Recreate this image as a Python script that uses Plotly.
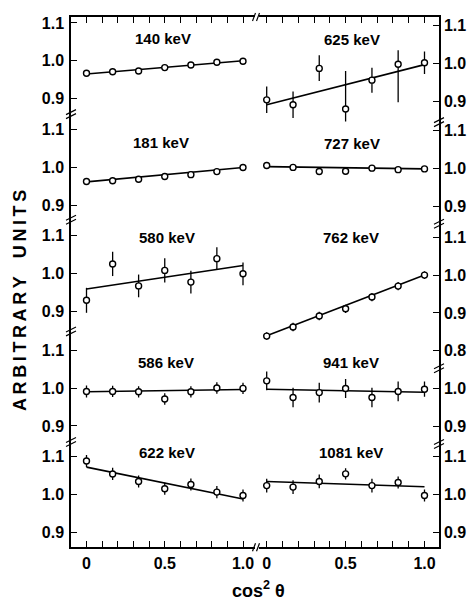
import plotly.graph_objects as go

# ---------------- data ----------------
cos2 = [0.0, 0.167, 0.333, 0.5, 0.667, 0.833, 1.0]
x_tick_vals = [0.0, 0.1, 0.2, 0.3, 0.4, 0.5, 0.6, 0.7, 0.8, 0.9, 1.0]
x_tick_text = ["0", "", "", "", "", "0.5", "", "", "", "", "1.0"]

labels = ["140 keV", "181 keV", "580 keV", "586 keV", "622 keV",
          "625 keV", "727 keV", "762 keV", "941 keV", "1081 keV"]

y_140 = [0.967, 0.971, 0.973, 0.982, 0.989, 0.996, 0.999]
e_140 = [0.007, 0.007, 0.007, 0.007, 0.008, 0.008, 0.007]
y_181 = [0.963, 0.965, 0.969, 0.976, 0.981, 0.989, 1.000]
e_181 = [0.008, 0.008, 0.008, 0.008, 0.009, 0.008, 0.007]
y_580 = [0.929, 1.025, 0.967, 1.008, 0.977, 1.039, 0.999]
e_580 = [0.033, 0.032, 0.030, 0.032, 0.030, 0.030, 0.030]
y_586 = [0.991, 0.991, 0.990, 0.971, 0.990, 1.000, 0.999]
e_586 = [0.016, 0.015, 0.015, 0.015, 0.015, 0.015, 0.015]
y_622 = [1.088, 1.054, 1.034, 1.015, 1.026, 1.006, 0.997]
e_622 = [0.016, 0.016, 0.016, 0.016, 0.016, 0.016, 0.016]
y_625 = [0.904, 0.891, 0.987, 0.880, 0.956, 0.998, 1.002]
ep_625 = [0.035, 0.035, 0.035, 0.100, 0.033, 0.037, 0.030]
em_625 = [0.035, 0.035, 0.033, 0.100, 0.033, 0.100, 0.030]
y_727 = [1.007, 1.002, 0.991, 0.992, 1.000, 0.996, 0.998]
e_727 = [0.008, 0.008, 0.008, 0.008, 0.008, 0.008, 0.008]
y_762 = [0.839, 0.863, 0.892, 0.911, 0.942, 0.971, 1.000]
e_762 = [0.010, 0.011, 0.011, 0.011, 0.011, 0.011, 0.010]
y_941 = [1.020, 0.976, 0.989, 1.000, 0.976, 0.992, 0.998]
e_941 = [0.025, 0.026, 0.026, 0.025, 0.026, 0.026, 0.020]
y_1081 = [1.024, 1.020, 1.035, 1.055, 1.024, 1.032, 0.998]
e_1081 = [0.018, 0.018, 0.018, 0.015, 0.018, 0.016, 0.016]

fit_x = [0.0, 1.0]
fit_140 = [0.965, 1.000]
fit_181 = [0.962, 1.000]
fit_580 = [0.959, 1.021]
fit_586 = [0.990, 0.996]
fit_622 = [1.072, 0.988]
fit_625 = [0.891, 0.997]
fit_727 = [1.004, 0.998]
fit_762 = [0.840, 1.000]
fit_941 = [0.998, 0.990]
fit_1081 = [1.035, 1.021]

y_ticks_std = [0.9, 1.0, 1.1]
y_ticks_762 = [0.8, 0.9, 1.0, 1.1]
y_ticks_941 = [0.9, 1.0]

panels = [
    (y_140, e_140, e_140, fit_140, y_ticks_std),
    (y_181, e_181, e_181, fit_181, y_ticks_std),
    (y_580, e_580, e_580, fit_580, y_ticks_std),
    (y_586, e_586, e_586, fit_586, y_ticks_std),
    (y_622, e_622, e_622, fit_622, y_ticks_std),
    (y_625, ep_625, em_625, fit_625, y_ticks_std),
    (y_727, e_727, e_727, fit_727, y_ticks_std),
    (y_762, e_762, e_762, fit_762, y_ticks_762),
    (y_941, e_941, e_941, fit_941, y_ticks_941),
    (y_1081, e_1081, e_1081, fit_1081, y_ticks_std),
]

# ---------------- layout geometry (pixels) ----------------
W, H = 468, 612
def px(p):
    return p / W
def py(p):
    return 1 - p / H

col_px = [(71, 255), (259, 439)]
x_zero_px = [86.5, 266.7]
x_unit_px = [156.5, 157.8]
rows_px = [
    [(15, 112), (112, 218), (218, 330), (330, 441), (441, 547)],
    [(15, 120), (120, 222), (222, 367), (367, 443), (443, 547)],
]
one_px = [[59, 166, 272.3, 387.3, 494], [61.7, 166.7, 274, 387.7, 494.3]]
Y_UNIT = 380.0
label_px = [
    [(163, 37), (161, 141), (167, 236), (166, 362), (167, 452)],
    [(352, 38), (352, 142), (351, 236), (351, 362), (351, 452)],
]

FONT = "Liberation Sans"
tick_font = dict(family=FONT, size=16, color="black", weight="bold")

fig = go.Figure()
layout = dict(
    width=W, height=H, margin=dict(l=0, r=0, t=0, b=0),
    paper_bgcolor="white", plot_bgcolor="white", showlegend=False,
)
annotations = []
shapes = []

k = 0
for c in range(2):
    for r in range(5):
        k += 1
        yv, ep, em, fit, yt = panels[k - 1]
        xa = "x" if k == 1 else f"x{k}"
        ya = "y" if k == 1 else f"y{k}"
        fig.add_trace(go.Scatter(
            x=fit_x, y=fit, mode="lines", xaxis=xa, yaxis=ya,
            line=dict(color="black", width=1.6), hoverinfo="skip"))
        fig.add_trace(go.Scatter(
            x=cos2, y=yv, mode="markers", xaxis=xa, yaxis=ya,
            marker=dict(symbol="circle", size=6, color="white",
                        line=dict(color="black", width=1.4)),
            error_y=dict(type="data", array=ep, arrayminus=em, symmetric=False,
                         color="black", thickness=1.3, width=0)))
        x0, x1 = col_px[c]
        xr = [(x0 - x_zero_px[c]) / x_unit_px[c], (x1 - x_zero_px[c]) / x_unit_px[c]]
        top, bot = rows_px[c][r]
        p1 = one_px[c][r]
        yr = [1 - (bot - p1) / Y_UNIT, 1 + (p1 - top) / Y_UNIT]
        xkey = "xaxis" if k == 1 else f"xaxis{k}"
        ykey = "yaxis" if k == 1 else f"yaxis{k}"
        xd = dict(domain=[px(x0), px(x1)], range=xr, anchor=ya,
                  showgrid=False, zeroline=False, fixedrange=True)
        if r == 0:
            xd.update(side="top", showline=True, linecolor="black", linewidth=1.5,
                      ticks="inside", ticklen=6, tickwidth=1.3, tickcolor="black",
                      tickmode="array", tickvals=x_tick_vals, showticklabels=False)
        elif r == 4:
            xd.update(side="bottom", showline=True, linecolor="black", linewidth=1.5,
                      ticks="inside", ticklen=6, tickwidth=1.3, tickcolor="black",
                      tickmode="array", tickvals=x_tick_vals, ticktext=x_tick_text,
                      tickfont=tick_font, ticklabelstandoff=1)
        else:
            xd.update(visible=False)
        layout[xkey] = xd
        layout[ykey] = dict(
            domain=[py(bot), py(top)], range=yr, anchor=xa,
            side="left" if c == 0 else "right",
            showline=True, linecolor="black", linewidth=1.5,
            ticks="inside", ticklen=6, tickwidth=1.3, tickcolor="black",
            tickmode="array", tickvals=yt, ticktext=[f"{v:.1f}" for v in yt],
            tickfont=tick_font, ticklabelstandoff=(2 if c == 0 else 0),
            showgrid=False, zeroline=False, fixedrange=True)
        lx, ly = label_px[c][r]
        annotations.append(dict(
            x=px(lx), y=py(ly), xref="paper", yref="paper", showarrow=False,
            text=labels[k - 1], font=dict(family=FONT, size=15, color="black", weight="bold"),
            xanchor="center", yanchor="middle"))

# axis break marks on vertical axes
def seg(xa, ya, xb, yb):
    shapes.append(dict(type="line", xref="paper", yref="paper",
                       x0=px(xa), y0=py(ya), x1=px(xb), y1=py(yb),
                       line=dict(color="black", width=1.2)))

for c, xline in ((0, 71), (1, 439)):
    for r in range(4):
        yb = rows_px[c][r][1]
        seg(xline - 5, yb + 1, xline + 5, yb - 4)
        seg(xline - 5, yb + 5, xline + 5, yb)
# horizontal break marks between columns
for yb in (15, 547):
    shapes.append(dict(type="rect", xref="paper", yref="paper",
                       x0=px(255), x1=px(259), y0=py(yb + 1), y1=py(yb - 1),
                       line=dict(width=0), fillcolor="white"))
    seg(252.5, yb + 4, 255.5, yb - 4)
    seg(256.5, yb + 4, 259.5, yb - 4)

annotations.append(dict(
    x=px(20), y=py(300), xref="paper", yref="paper", showarrow=False,
    text="A\u2009R\u2009B\u2009I\u2009T\u2009R\u2009A\u2009R\u2009Y\u2002\u2002U\u2009N\u2009I\u2009T\u2009S",
    textangle=-90, font=dict(family=FONT, size=18, color="black", weight="bold"),
    xanchor="center", yanchor="middle"))
annotations.append(dict(
    x=px(258), y=py(589), xref="paper", yref="paper", showarrow=False,
    text="cos<sup>2</sup> θ", font=dict(family=FONT, size=18, color="black", weight="bold"),
    xanchor="center", yanchor="middle"))

layout["annotations"] = annotations
layout["shapes"] = shapes
fig.update_layout(**layout)
fig.write_html("out.html", config={"displayModeBar": False},
               post_script="document.body.style.margin='0px';")
